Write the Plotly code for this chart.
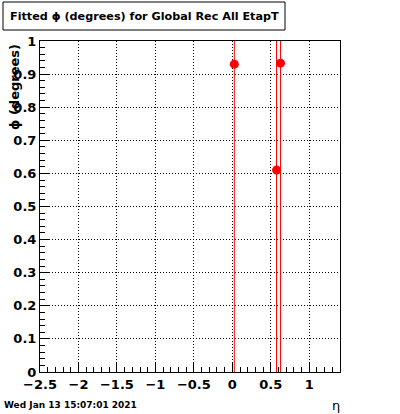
import plotly.graph_objects as go

# data
eta = [0.026, 0.575, 0.627]
phi = [0.930, 0.610, 0.933]
phi_err = [5.0, 5.0, 5.0]

x_ticks = [-2.5, -2, -1.5, -1, -0.5, 0, 0.5, 1]
x_tick_labels = ["\u22122.5", "\u22122", "\u22121.5", "\u22121", "\u22120.5", "0", "0.5", "1"]
y_ticks = [0, 0.1, 0.2, 0.3, 0.4, 0.5, 0.6, 0.7, 0.8, 0.9, 1]
y_tick_labels = ["0", "0.1", "0.2", "0.3", "0.4", "0.5", "0.6", "0.7", "0.8", "0.9", "1"]

title_text = "Fitted \u03d5 (degrees) for Global Rec All EtapT"
date_text = "Wed Jan 13 15:07:01 2021"

FONT = "DejaVu Sans"

fig = go.Figure()
fig.add_trace(go.Scatter(
    x=eta, y=phi, mode="markers",
    marker=dict(color="red", size=9, symbol="circle"),
    error_y=dict(type="data", array=phi_err, visible=True, color="red", thickness=1, width=0),
    showlegend=False,
))

W, H = 400, 414
PL, PR, PT, PB = 40, 340, 41, 372  # plot area in page pixels
L, T = PL, PT
R = W - PR
B = H - PB
pw = PR - PL
ph = PB - PT

def px_x(p):
    return (p - PL) / pw

def px_y(p):
    return (PB - p) / ph

axis_common = dict(
    showline=True, mirror=True, linecolor="black", linewidth=1,
    ticks="inside", ticklen=10, tickcolor="black", tickwidth=1,
    showgrid=True, gridcolor="black", griddash="1px,2px", gridwidth=1,
    zeroline=False, automargin=False,
    tickfont=dict(family=FONT, size=13, color="black", weight="bold"),
)

fig.update_xaxes(
    range=[-2.5, 1.4], tickmode="array", tickvals=x_ticks, ticktext=x_tick_labels,
    minor=dict(dtick=0.1, ticks="inside", ticklen=5, tickcolor="black", showgrid=False),
    ticklabelstandoff=0,
    **axis_common,
)
fig.update_yaxes(
    range=[0, 1], tickmode="array", tickvals=y_ticks, ticktext=y_tick_labels,
    minor=dict(dtick=0.02, ticks="inside", ticklen=5, tickcolor="black", showgrid=False),
    ticklabelstandoff=0,
    **axis_common,
)

fig.add_shape(type="rect", xref="paper", yref="paper",
              x0=px_x(3), x1=px_x(285), y0=px_y(30), y1=px_y(2),
              line=dict(color="black", width=1), fillcolor="white", layer="above")

fig.add_annotation(x=px_x(144), y=px_y(16), xref="paper", yref="paper",
                   text=title_text, showarrow=False, xanchor="center", yanchor="middle",
                   font=dict(family=FONT, size=11.2, color="black", weight="bold"))
fig.add_annotation(x=px_x(2), y=px_y(405), xref="paper", yref="paper",
                   text=date_text, showarrow=False, xanchor="left", yanchor="middle",
                   font=dict(family=FONT, size=9, color="black", weight="bold"))
fig.add_annotation(x=px_x(336), y=px_y(405), xref="paper", yref="paper",
                   text="\u03b7", showarrow=False, xanchor="center", yanchor="middle",
                   font=dict(family=FONT, size=13, color="black"))
fig.add_annotation(x=px_x(14), y=px_y(42), xref="paper", yref="paper",
                   text="\u03d5 (degrees)", showarrow=False, textangle=-90,
                   xanchor="center", yanchor="top",
                   font=dict(family=FONT, size=13, color="black", weight="bold"))

fig.update_layout(
    width=W, height=H,
    margin=dict(l=L, r=R, t=T, b=B, pad=0),
    paper_bgcolor="white", plot_bgcolor="white",
    showlegend=False,
)

fig.write_html("out.html", config={"displayModeBar": False},
               post_script="document.body.style.margin='0';")
